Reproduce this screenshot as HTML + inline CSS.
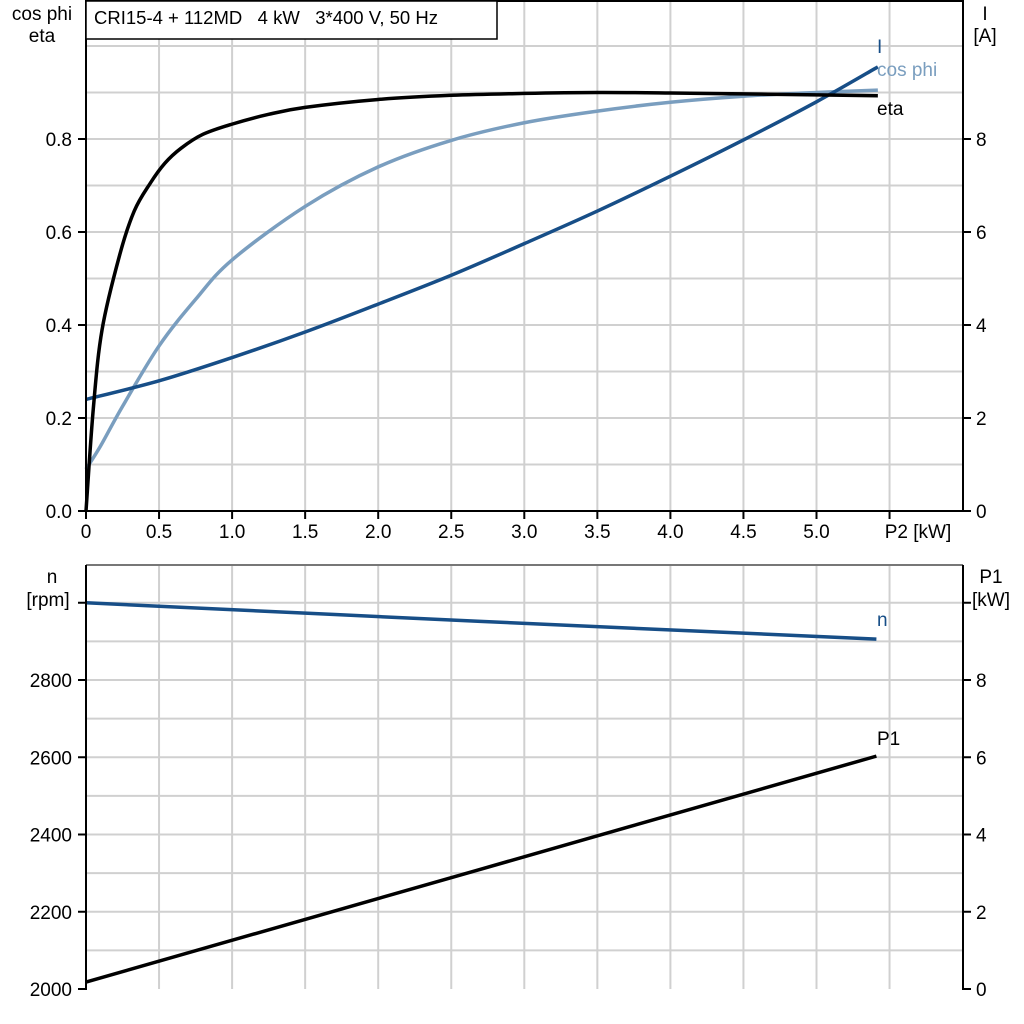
<!DOCTYPE html>
<html><head><meta charset="utf-8"><style>
body{margin:0;background:#fff;}
svg{display:block;font-family:"Liberation Sans",Arial,sans-serif;}
</style></head><body>
<svg id="s" width="1024" height="1024" viewBox="0 0 1024 1024" xmlns="http://www.w3.org/2000/svg">
<rect width="1024" height="1024" fill="#fff"/>
<g id="grid" stroke="#d0d0d0" stroke-width="2"></g>
<g id="curves" fill="none" stroke-width="3.5" stroke-linejoin="round" stroke-linecap="butt"></g>
<line x1="86" y1="0" x2="86" y2="512" stroke="#000" stroke-width="2"/>
<line x1="963" y1="0" x2="963" y2="512" stroke="#000" stroke-width="2"/>
<line x1="86" y1="1" x2="963" y2="1" stroke="#000" stroke-width="2"/>
<line x1="78" y1="511" x2="971" y2="511" stroke="#000" stroke-width="2"/>
<rect x="86" y="1" width="411" height="38" fill="#fff" stroke="#000" stroke-width="1.5"/>
<text x="94" y="24" font-size="18.5">CRI15-4 + 112MD&#160;&#160;&#160;4 kW&#160;&#160;&#160;3*400 V, 50 Hz</text>
<line x1="86" y1="565" x2="963" y2="565" stroke="#777" stroke-width="2"/>
<line x1="86" y1="565" x2="86" y2="990" stroke="#000" stroke-width="2"/>
<line x1="963" y1="565" x2="963" y2="990" stroke="#000" stroke-width="2"/>
<g id="ticks" stroke="#000" stroke-width="2"></g>
<g id="labels" font-size="19" fill="#000"></g>
<g font-size="19">
<text x="42" y="20" text-anchor="middle">cos phi</text>
<text x="42" y="42" text-anchor="middle">eta</text>
<text x="985" y="20" text-anchor="middle">I</text>
<text x="985" y="42" text-anchor="middle">[A]</text>
<text x="918" y="538" text-anchor="middle">P2 [kW]</text>
<text x="52" y="583" text-anchor="middle">n</text>
<text x="48" y="606" text-anchor="middle">[rpm]</text>
<text x="991" y="583" text-anchor="middle">P1</text>
<text x="991" y="606" text-anchor="middle">[kW]</text>
<text x="877" y="53" fill="#174e87">I</text>
<text x="877" y="76" fill="#7a9ebf">cos phi</text>
<text x="877" y="115">eta</text>
<text x="877" y="626" fill="#174e87">n</text>
<text x="877" y="745">P1</text>
</g>
</svg>
<script>
var NS="http://www.w3.org/2000/svg";
function el(p,t,a,txt){var e=document.createElementNS(NS,t);for(var k in a)e.setAttribute(k,a[k]);if(txt!=null)e.textContent=txt;document.getElementById(p).appendChild(e);}
var X=function(k){return 86+k*146.1;};
for(var i=1;i<=11;i++){var x=X(i*0.5);if(x<962){el("grid","line",{x1:x,y1:1,x2:x,y2:511});el("grid","line",{x1:x,y1:565,x2:x,y2:989});}}
for(var i=1;i<=10;i++){var y=511-i*46.5;el("grid","line",{x1:86,y1:y,x2:963,y2:y});}
for(var i=1;i<=10;i++){var y=989-i*38.62;if(y>566)el("grid","line",{x1:86,y1:y,x2:963,y2:y});}
var L=["0.0","0.2","0.4","0.6","0.8"];
for(var i=0;i<5;i++){var y=511-i*93;el("ticks","line",{x1:78,y1:y,x2:86,y2:y});el("labels","text",{x:72,y:y+7,"text-anchor":"end"},L[i]);
el("ticks","line",{x1:963,y1:y,x2:971,y2:y});el("labels","text",{x:976,y:y+7},String(i*2));}
var XL=["0","0.5","1.0","1.5","2.0","2.5","3.0","3.5","4.0","4.5","5.0"];
for(var i=0;i<=11;i++){var x=X(i*0.5);el("ticks","line",{x1:x,y1:511,x2:x,y2:519});if(i<11)el("labels","text",{x:x,y:538,"text-anchor":"middle"},XL[i]);}
for(var i=0;i<=5;i++){var y=989-i*77.25;el("ticks","line",{x1:78,y1:y,x2:86,y2:y});el("ticks","line",{x1:963,y1:y,x2:971,y2:y});
if(i<5){el("labels","text",{x:72,y:y+7,"text-anchor":"end"},String(2000+i*200));el("labels","text",{x:976,y:y+7},String(i*2));}}
function path(pts){var d="M"+pts[0][0]+","+pts[0][1];for(var i=0;i<pts.length-1;i++){var p0=pts[i-1]||pts[i],p1=pts[i],p2=pts[i+1],p3=pts[i+2]||p2;
d+=" C"+(p1[0]+(p2[0]-p0[0])/6)+","+(p1[1]+(p2[1]-p0[1])/6)+" "+(p2[0]-(p3[0]-p1[0])/6)+","+(p2[1]-(p3[1]-p1[1])/6)+" "+p2[0]+","+p2[1];}return d;}
function curve(data,fy,col,w){var pts=data.map(function(p){return [X(p[0]),fy(p[1])];});el("curves","path",{d:path(pts),stroke:col,"stroke-width":w||3.5});}
var yL=function(v){return 511-v*465;}, yI=function(v){return 511-v*46.5;};
curve([[0,0.09],[0.1,0.14],[0.25,0.225],[0.5,0.355],[0.75,0.455],[1,0.54],[1.5,0.655],[2,0.74],[2.5,0.797],[3,0.835],[3.5,0.86],[4,0.879],[4.5,0.892],[5,0.9],[5.42,0.905]],yL,"#7a9ebf");
curve([[0,2.4],[0.5,2.8],[1,3.3],[1.5,3.85],[2,4.45],[2.5,5.07],[3,5.75],[3.5,6.45],[4,7.2],[4.5,7.98],[5,8.8],[5.42,9.55]],yI,"#174e87");
curve([[0,0],[0.05,0.22],[0.11,0.39],[0.23,0.55],[0.33,0.645],[0.44,0.705],[0.54,0.748],[0.65,0.78],[0.8,0.81],[1,0.832],[1.25,0.853],[1.5,0.868],[2,0.885],[2.5,0.894],[3,0.898],[3.5,0.9],[4,0.899],[4.5,0.897],[5,0.895],[5.42,0.893]],yL,"#000");
var yN=function(v){return 989-(v-2000)*0.3862;}, yP=function(v){return 989-v*38.62;};
curve([[0,3000],[2.7,2952],[5.41,2906]],yN,"#174e87");
curve([[0,0.18],[2.7,3.1],[5.41,6.03]],yP,"#000");
</script>
</body></html>
